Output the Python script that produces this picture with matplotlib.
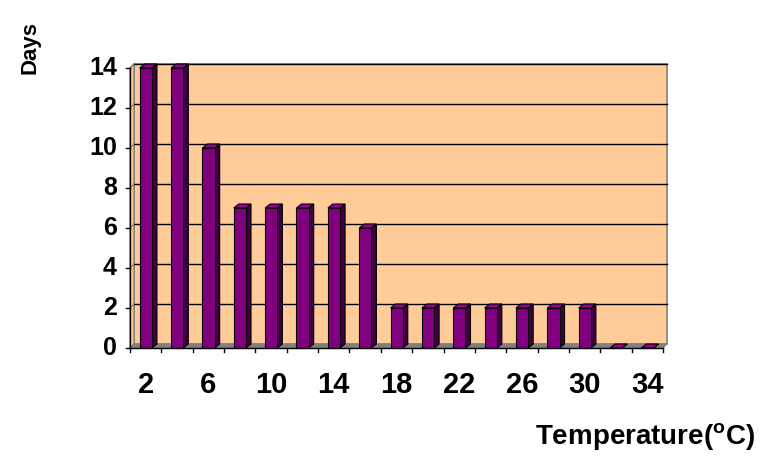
"""Bar chart of days per temperature band, drawn in a 3D column style."""

import matplotlib
matplotlib.use("Agg")
import matplotlib.pyplot as plt
from matplotlib.patches import Polygon

plt.rcParams["font.family"] = ["Liberation Sans", "DejaVu Sans"]
plt.rcParams["mathtext.fontset"] = "custom"
plt.rcParams["mathtext.bf"] = "Liberation Sans:bold"
plt.rcParams["mathtext.rm"] = "Liberation Sans"

temperatures = [2, 4, 6, 8, 10, 12, 14, 16, 18, 20, 22, 24, 26, 28, 30, 32, 34]
days = [14, 14, 10, 7, 7, 7, 7, 6, 2, 2, 2, 2, 2, 2, 2, 0, 0]
y_ticks = [0, 2, 4, 6, 8, 10, 12, 14]

WALL = "#FFCC99"
BAR_FRONT = "#800080"
BAR_SIDE = "#400040"
BAR_TOP = "#990099"

fig = plt.figure(figsize=(7.63, 4.59), dpi=100)
ax = fig.add_axes([130 / 763, 1 - 348 / 459, 533 / 763, 280 / 459])
n = len(temperatures)
ax.set_xlim(0, n)
ax.set_ylim(0, 14)
ax.axis("off")

# depth offsets in data units (about 4 px right and 4 px up)
px_x = 533 / n
px_y = 280 / 14
wdx, wdy = 4 / px_x, 4 / px_y
bdx, bdy = 5 / px_x, 4 / px_y

# back wall, side wall and floor
ax.add_patch(Polygon([(wdx, wdy), (n + wdx, wdy), (n + wdx, 14 + wdy), (wdx, 14 + wdy)],
                     closed=True, facecolor=WALL, edgecolor="#808080", lw=1.2,
                     clip_on=False, zorder=1))
ax.add_patch(Polygon([(0, 0), (wdx, wdy), (wdx, 14 + wdy), (0, 14)],
                     closed=True, facecolor=WALL, edgecolor="#808080", lw=1.0,
                     clip_on=False, zorder=1))
ax.add_patch(Polygon([(0, 0), (n, 0), (n + wdx, wdy), (wdx, wdy)],
                     closed=True, facecolor="#808080", edgecolor="#808080", lw=0.8,
                     clip_on=False, zorder=1))

# gridlines on the back wall
for v in y_ticks[1:]:
    ax.plot([wdx, n + wdx], [v + wdy, v + wdy], color="black", lw=1.0,
            clip_on=False, zorder=2)
    ax.plot([0, wdx], [v, v + wdy], color="#808080", lw=0.8, clip_on=False, zorder=2)

# columns
bar_w = 0.39
for i, val in enumerate(days):
    x0 = i + 0.31
    x1 = x0 + bar_w
    front = Polygon([(x0, 0), (x1, 0), (x1, val), (x0, val)], closed=True,
                    facecolor=BAR_FRONT, edgecolor="black", lw=0.8, zorder=4,
                    clip_on=False)
    side = Polygon([(x1, 0), (x1 + bdx, bdy), (x1 + bdx, val + bdy), (x1, val)],
                   closed=True, facecolor=BAR_SIDE, edgecolor="black", lw=0.8,
                   zorder=4, clip_on=False)
    top = Polygon([(x0, val), (x1, val), (x1 + bdx, val + bdy), (x0 + bdx, val + bdy)],
                  closed=True, facecolor=BAR_TOP, edgecolor="black", lw=0.8,
                  zorder=4, clip_on=False)
    for p in (side, front, top):
        ax.add_patch(p)

# axes lines and ticks
ax.plot([0, n], [0, 0], color="black", lw=1.0, clip_on=False, zorder=5)
ax.plot([0, 0], [0, 14], color="black", lw=1.0, clip_on=False, zorder=5)
tick_x = 4 / px_x
tick_y = 4 / px_y
for v in y_ticks:
    ax.plot([-tick_x, 0], [v, v], color="black", lw=1.0, clip_on=False, zorder=5)
    ax.text(-0.42, v, str(v), ha="right", va="center", fontsize=18,
            fontweight="bold")
for i in range(n + 1):
    ax.plot([i, i], [0, -tick_y], color="black", lw=1.0, clip_on=False, zorder=5)
for i, t in enumerate(temperatures):
    if i % 2 == 0:
        ax.text(i + 0.5, -1.85, str(t), ha="center", va="center", fontsize=21,
                fontweight="bold")

fig.text(30 / 763, 1 - 47 / 459, "Days", rotation=90, ha="center", va="center",
         fontsize=16, fontweight="bold")
fig.text(645 / 763, 1 - 437 / 459, r"Temperature($^{\mathbf{o}}$C)", ha="center",
         va="center", fontsize=20, fontweight="bold")

fig.savefig("out.png", dpi=100)
